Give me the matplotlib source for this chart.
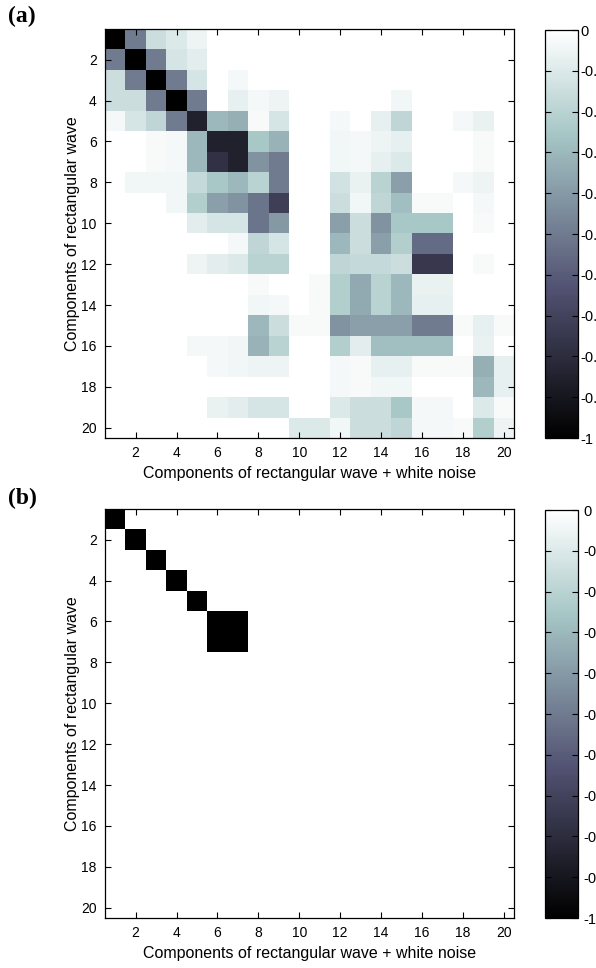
import numpy as np
import matplotlib.pyplot as plt
from matplotlib.ticker import FuncFormatter

### 0. Data
# correlation between components, rows: rectangular wave, cols: wave + noise
corr_a = [
    [-1.00, -0.50, -0.15, -0.10, -0.05, 0, 0, 0, 0, 0, 0, 0, 0, 0, 0, 0, 0, 0, 0, 0],
    [-0.50, -1.00, -0.50, -0.12, -0.08, 0, 0, 0, 0, 0, 0, 0, 0, 0, 0, 0, 0, 0, 0, 0],
    [-0.15, -0.50, -1.00, -0.50, -0.12, 0, -0.03, 0, 0, 0, 0, 0, 0, 0, 0, 0, 0, 0, 0, 0],
    [-0.15, -0.15, -0.50, -1.00, -0.50, 0, -0.07, -0.03, -0.05, 0, 0, 0, 0, 0, -0.04, 0, 0, 0, 0, 0],
    [-0.03, -0.12, -0.18, -0.50, -0.85, -0.30, -0.33, -0.02, -0.12, 0, 0, -0.03, 0, -0.07, -0.18, 0, 0, -0.03, -0.06, 0],
    [0, 0, -0.02, -0.03, -0.30, -0.85, -0.85, -0.25, -0.32, 0, 0, -0.04, -0.03, -0.05, -0.07, 0, 0, 0, -0.02, 0],
    [0, 0, -0.02, -0.03, -0.30, -0.78, -0.85, -0.42, -0.50, 0, 0, -0.04, -0.03, -0.07, -0.10, 0, 0, 0, -0.02, 0],
    [0, -0.04, -0.04, -0.04, -0.17, -0.25, -0.30, -0.20, -0.50, 0, 0, -0.13, -0.06, -0.20, -0.38, 0, 0, -0.03, -0.05, 0],
    [0, 0, 0, -0.04, -0.22, -0.38, -0.42, -0.52, -0.72, 0, 0, -0.15, -0.04, -0.18, -0.28, -0.02, -0.02, 0, -0.03, 0],
    [0, 0, 0, 0, -0.08, -0.12, -0.12, -0.52, -0.40, 0, 0, -0.38, -0.15, -0.42, -0.25, -0.25, -0.25, 0, -0.02, 0],
    [0, 0, 0, 0, 0, 0, -0.03, -0.18, -0.12, 0, 0, -0.30, -0.15, -0.38, -0.22, -0.55, -0.55, 0, 0, 0],
    [0, 0, 0, 0, -0.05, -0.08, -0.10, -0.20, -0.20, 0, 0, -0.18, -0.17, -0.17, -0.15, -0.75, -0.75, 0, -0.02, 0],
    [0, 0, 0, 0, 0, 0, 0, -0.02, 0, 0, -0.02, -0.22, -0.35, -0.20, -0.30, -0.06, -0.06, 0, 0, 0],
    [0, 0, 0, 0, 0, 0, 0, -0.04, -0.03, 0, -0.02, -0.22, -0.35, -0.20, -0.30, -0.07, -0.07, 0, 0, 0],
    [0, 0, 0, 0, 0, 0, 0, -0.30, -0.15, -0.02, -0.02, -0.42, -0.38, -0.38, -0.38, -0.50, -0.50, -0.02, -0.07, -0.02],
    [0, 0, 0, 0, -0.03, -0.03, -0.04, -0.32, -0.20, 0, 0, -0.22, -0.08, -0.28, -0.28, -0.28, -0.28, 0, -0.06, 0],
    [0, 0, 0, 0, 0, -0.03, -0.04, -0.05, -0.05, 0, 0, -0.03, -0.02, -0.07, -0.07, -0.02, -0.02, -0.02, -0.33, -0.07],
    [0, 0, 0, 0, 0, 0, 0, 0, 0, 0, 0, -0.03, -0.02, -0.04, -0.04, 0, 0, 0, -0.30, -0.07],
    [0, 0, 0, 0, 0, -0.06, -0.08, -0.12, -0.12, 0, 0, -0.10, -0.15, -0.15, -0.25, -0.03, -0.03, 0, -0.10, -0.02],
    [0, 0, 0, 0, 0, 0, 0, 0, 0, -0.10, -0.10, -0.04, -0.15, -0.15, -0.18, -0.03, -0.03, -0.02, -0.22, -0.05],
]

# matched components (row, col), value -1
match_b = [(1, 1), (2, 2), (3, 3), (4, 4), (5, 5), (6, 6), (6, 7), (7, 6), (7, 7)]

n = 20
ticks = np.arange(2, 21, 2)
cb_ticks = np.linspace(-1, 0, 11)
xlab = 'Components of rectangular wave + white noise'
ylab = 'Components of rectangular wave'

A = np.array(corr_a)
B = np.zeros((n, n))
for r, c in match_b:
    B[r - 1, c - 1] = -1

### 1. Plot
plt.rcParams['font.family'] = ['Liberation Sans', 'DejaVu Sans']
fig = plt.figure(figsize=(5.96, 9.68), dpi=100)

W, H = 596., 968.
def box(x0, y0, x1, y1):
    return [x0 / W, 1 - y1 / H, (x1 - x0) / W, (y1 - y0) / H]

def cb_fmt(v, pos):
    if abs(v) < 1e-9:
        return '0'
    if abs(v + 1) < 1e-9:
        return '-1'
    return '%.1f' % v

# (matrix, tag, axes top, tag y, colorbar label pad)
panels = [(A, '(a)', 29, 6, 2), (B, '(b)', 509, 488, 4)]
for M, tag, top, ty, cpad in panels:
    ax = fig.add_axes(box(105, top, 514, top + 409))
    im = ax.imshow(M, cmap='bone', vmin=-1, vmax=0, interpolation='nearest',
                   extent=(0.5, n + 0.5, n + 0.5, 0.5), aspect='auto')
    ax.set_xticks(ticks)
    ax.set_yticks(ticks)
    ax.tick_params(direction='in', top=True, right=True, length=4,
                   labelsize=10, pad=6)
    ax.set_xlabel(xlab, fontsize=11.5, labelpad=4)
    ax.set_ylabel(ylab, fontsize=11.5, labelpad=1)
    for s in ax.spines.values():
        s.set_linewidth(0.9)

    cax = fig.add_axes(box(545, top + 1, 578, top + 409))
    cb = fig.colorbar(im, cax=cax, ticks=cb_ticks)
    cb.ax.yaxis.set_major_formatter(FuncFormatter(cb_fmt))
    cb.ax.tick_params(direction='in', left=True, right=True, length=4,
                      labelsize=10.5, pad=cpad)
    cb.outline.set_linewidth(0.9)

    fig.text(8 / W, 1 - ty / H, tag, ha='left', va='top', fontsize=17,
             fontweight='bold', family='Liberation Serif')

fig.savefig('out.png', dpi=100)
